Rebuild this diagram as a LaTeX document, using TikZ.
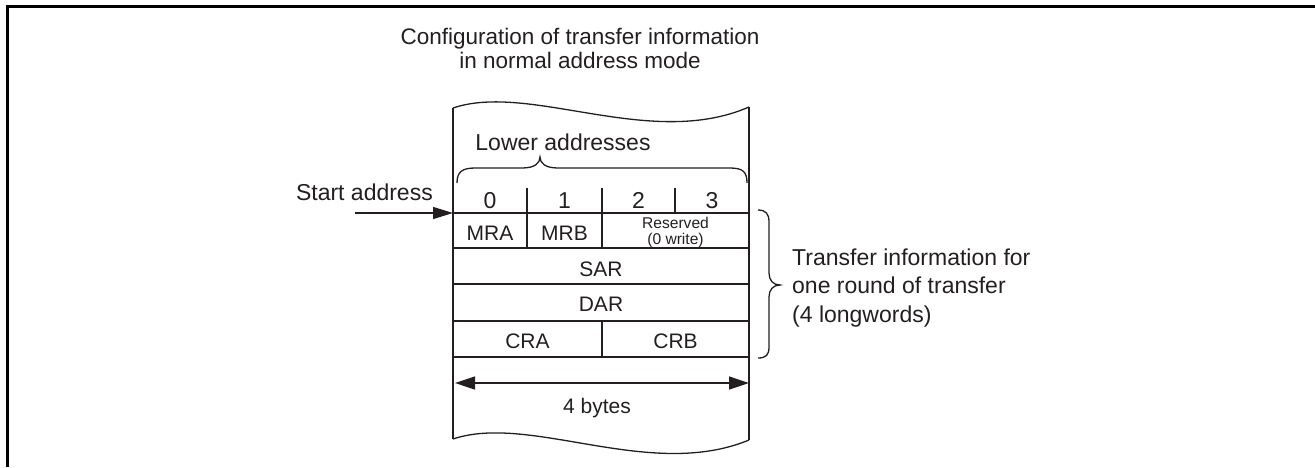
\documentclass[tikz,border=0pt]{standalone}
\usepackage{fontspec}
\setmainfont{Liberation Sans}
\usetikzlibrary{arrows.meta}
\definecolor{ink}{HTML}{231F20}
\tikzset{
  lbl/.style={inner sep=0pt, anchor=base, text=ink},
  big/.style={lbl, font=\fontsize{23}{28.5}\selectfont},
  cell/.style={lbl, font=\fontsize{21}{24}\selectfont},
  tiny/.style={lbl, font=\fontsize{15.6}{16}\selectfont},
  thin/.style={draw=ink, line width=1.3pt},
  frame/.style={draw=black, line width=2.3pt},
  arr/.style={thin, -{Triangle[length=20pt,width=12pt]}},
  darr/.style={thin, {Triangle[length=20pt,width=13pt]}-{Triangle[length=20pt,width=13pt]}},
}
\begin{document}
\begin{tikzpicture}[x=1pt,y=-1pt]
\useasboundingbox (0,0) rectangle (1315,467);
% outer frame (top and left only)
\draw[frame] (7.5,467) -- (7.5,6.5) -- (1315,6.5);

% title (base anchor = last line's baseline)
\node[lbl, font=\fontsize{22.5}{23.5}\selectfont, align=center] (title) at (580,68)
  {Configuration of transfer information\\in normal address mode};

% box outline with wavy top and bottom
\coordinate (tl) at (453,108);
\coordinate (tr) at (749,107);
\coordinate (bl) at (453,439);
\coordinate (br) at (749,440);
\draw[thin] (tl) .. controls (530,82) and (650,150) .. (tr);
\draw[thin] (bl) .. controls (530,413) and (650,481) .. (br);
\draw[thin] (tl) -- (bl);
\draw[thin] (tr) -- (br);

% lower addresses + brace
\node[big] (lower) at (563,150) {Lower addresses};
\draw[thin] (457,183) .. controls (457,172) and (462,168) .. (475,168) -- (522,168)
  .. controls (535,168) and (540,163) .. (540,157)
  .. controls (540,163) and (545,168) .. (558,168) -- (730,168)
  .. controls (743,168) and (747,172) .. (747,183);

% byte numbers
\node[big] (b0) at (490,208) {0};
\node[big] (b1) at (564.5,208) {1};
\node[big] (b2) at (638.5,208) {2};
\node[big] (b3) at (712,208) {3};
\draw[thin] (527,188) -- (527,213);
\draw[thin] (602,188) -- (602,213);
\draw[thin] (675,188) -- (675,213);

% rows
\foreach \yy in {213,248,284,321,357} \draw[thin] (453,\yy) -- (749,\yy);
\draw[thin] (527,213) -- (527,248);
\draw[thin] (602,213) -- (602,248);
\draw[thin] (602,321) -- (602,357);

\node[cell] (mra) at (490,240) {MRA};
\node[cell] (mrb) at (564.5,240) {MRB};
\node[tiny] (res1) at (675.5,228) {Reserved};
\node[tiny] (res2) at (675.5,244) {(0 write)};
\node[cell] (sar) at (601,276) {SAR};
\node[cell] (dar) at (601,311) {DAR};
\node[cell] (cra) at (527.5,348) {CRA};
\node[cell] (crb) at (675.5,348) {CRB};

% start address arrow
\node[big, anchor=base east] (start) at (433,200) {Start address};
\coordinate (sfrom) at (355,213);
\coordinate (sto) at (453,213);
\draw[arr] (sfrom) -- (sto);

% 4 bytes arrow
\coordinate (wl) at (455,383);
\coordinate (wr) at (749,383);
\draw[darr] (wl) -- (wr);
\node[cell] (bytes) at (597,413) {4 bytes};

% right brace and text
\draw[thin] (758,210) .. controls (766,210) and (769,214) .. (769,222) -- (769,273)
  .. controls (769,280) and (773,285) .. (780,285)
  .. controls (773,285) and (769,290) .. (769,297) -- (769,347)
  .. controls (769,355) and (766,358) .. (758,358);
\node[big, anchor=base west, align=left] (info) at (792,322)
  {Transfer information for\\one round of transfer\\(4 longwords)};
\end{tikzpicture}
\end{document}
